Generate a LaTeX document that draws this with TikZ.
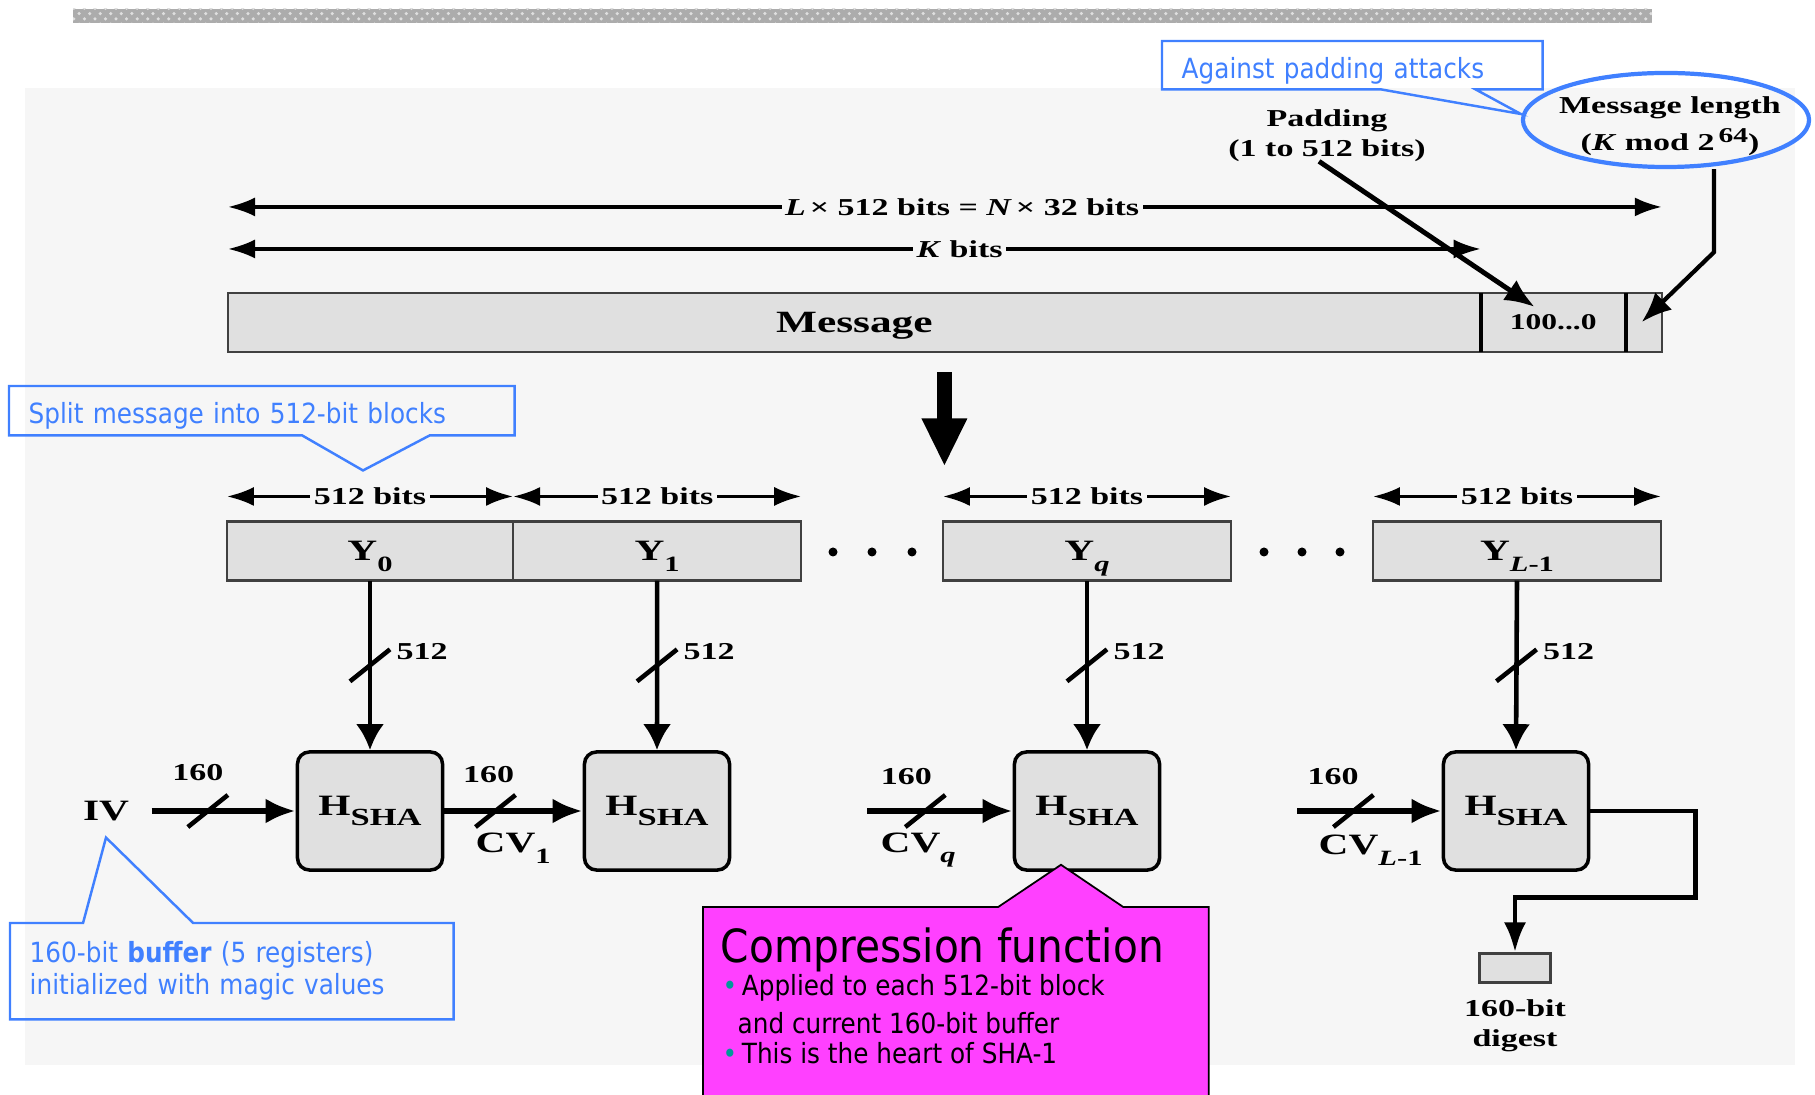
\documentclass[tikz,border=0pt]{standalone}
\usepackage{fontspec}
\setmainfont{Liberation Serif}[FakeStretch=1.4]
\newfontfamily\notefont{DejaVu Sans}[FakeStretch=0.89]
\usetikzlibrary{arrows.meta, positioning, shapes, calc, decorations.markings, patterns}

\definecolor{panel}{RGB}{246,246,246}
\definecolor{boxgray}{RGB}{224,224,224}
\definecolor{noteblue}{RGB}{64,128,255}
\definecolor{notepink}{RGB}{255,64,255}
\definecolor{dotteal}{RGB}{0,153,153}

\newcommand{\tinylbl}{\fontsize{6.9}{8.5}\selectfont\bfseries}
\newcommand{\blocklbl}{\fontsize{8.4}{10}\selectfont\bfseries}
\newcommand{\dsub}[2][6.2]{\raisebox{-0.8ex}{\fontsize{#1}{#1}\selectfont #2}}

\begin{document}
\begin{tikzpicture}[x=0.01cm, y=-0.01cm,
  block/.style = {draw=black!75, line width=0.6pt, fill=boxgray, inner sep=0pt, outer sep=0pt, minimum height=0.59cm, text depth=0pt, font=\blocklbl},
  hash/.style = {draw, line width=1pt, fill=boxgray, rounded corners=0.12cm, minimum width=1.45cm, minimum height=1.18cm, inner sep=0pt, font=\blocklbl},
  bus/.style = {line width=1.3pt, -{Latex[length=0.26cm, width=0.28cm]}},
  chain/.style = {line width=1.7pt, -{Latex[length=0.3cm, width=0.25cm]}},
  span/.style = {line width=0.9pt, {Latex[length=0.27cm, width=0.19cm]}-{Latex[length=0.27cm, width=0.19cm]}},
  cutv/.style = {postaction=decorate, decoration={markings, mark=at position 0.5 with {\draw[arrows=-, line width=1.3pt] (0.16cm,-0.2cm) -- (-0.16cm,0.2cm);}}},
  cuth/.style = {postaction=decorate, decoration={markings, mark=at position #1 with {\draw[arrows=-, line width=1.3pt] (-0.2cm,-0.16cm) -- (0.2cm,0.16cm);}}},
  dimtext/.style = {fill=panel, inner sep=1pt, font=\tinylbl},
  notebox/.style = {anchor=north west, inner xsep=0.19cm, inner ysep=0pt, align=left, text=noteblue, font=\notefont\fontsize{7.9}{9.1}\selectfont},
  callout/.style = {draw=noteblue, line width=0.7pt},
  pinktext/.style = {anchor=west, inner sep=0pt, font=\notefont\fontsize{7.9}{9}\selectfont}
]
  \useasboundingbox (0,0) rectangle (1815,1095);

  % Background
  \fill[panel] (25,88) rectangle (1795,1065);
  \fill[gray!65] (73,9) rectangle (1652,23);
  \fill[pattern=crosshatch dots, pattern color=gray!25] (73,9) rectangle (1652,23);

  % Message
  \node[block, minimum width=12.52cm, anchor=north west, font=\fontsize{8.8}{10}\selectfont\bfseries] (msg) at (228,293) {Message};
  \node[block, minimum width=1.45cm, anchor=west, font=\fontsize{6.4}{8}\selectfont\bfseries] (pad) at (msg.east) {100...0};
  \node[block, minimum width=0.36cm, anchor=west] (len) at (pad.east) {};
  \draw[line width=1.1pt] (pad.north west) -- (pad.south west) (len.north west) -- (len.south west);

  \draw[span] ([yshift=0.86cm]msg.north west) -- node[dimtext, pos=0.512] (ltot) {\textit{L}\,× 512 bits = \textit{N}\,× 32 bits} ([yshift=0.86cm]len.north east);
  \draw[span] ([yshift=0.44cm]msg.north west) -- node[dimtext, pos=0.584] (lk) {\textit{K} bits} ([yshift=0.44cm]pad.north west);

  % Padding and length
  \node[align=center, font=\tinylbl] (padtxt) at (1327,136) {Padding\\(1 to 512 bits)};
  \draw[line width=1.4pt, -{Latex[length=0.3cm, width=0.24cm]}] ([xshift=-0.08cm, yshift=0.13cm]padtxt.south) -- ([xshift=0.54cm, yshift=-0.14cm]pad.north west);

  \node[ellipse, draw=noteblue, line width=1.2pt, minimum width=2.86cm, minimum height=0.94cm, inner sep=0pt] (lenring) at (1666,120) {};
  \node[align=center, font=\fontsize{6.9}{10.5}\selectfont\bfseries] (lentxt) at (1670,126) {Message length\\(\textit{K} mod 2\,\raisebox{0.7ex}{\fontsize{6}{6}\selectfont 64})};
  \draw[line width=1.2pt, -{Latex[length=0.3cm, width=0.24cm]}] ([xshift=0.48cm]lenring.south) -- ++(0,83) -- ([xshift=0.16cm, yshift=-0.29cm]len.north west);

  \node[notebox, minimum width=3.79cm, minimum height=0.47cm, text width=3.41cm, text height=7.5pt, text depth=0pt] (padnote) at (1162,41) {Against padding attacks};
  \draw[callout] (padnote.north west) -- (padnote.north east) -- (padnote.south east) -- ([xshift=-0.67cm]padnote.south east) -- ([yshift=0.06cm]lenring.west) -- ([xshift=2.19cm]padnote.south west) -- (padnote.south west) -- cycle;

  % Split into blocks
  \node[block, minimum width=2.86cm] (y0) at (370,551) {Y\dsub{0}};
  \node[block, minimum width=2.88cm, right=0pt of y0] (y1) {Y\dsub{1}};
  \node[block, minimum width=2.88cm] (yq) at (1087,551) {Y\dsub{\textit{q}}};
  \node[block, minimum width=2.88cm] (yl) at (1517,551) {Y\dsub{\textit{L}-1}};

  \draw[line width=4.3pt, -{Triangle[length=0.48cm, width=0.42cm]}] ([xshift=0.015cm, yshift=1.49cm]yq.north west) -- ([xshift=0.015cm, yshift=0.55cm]yq.north west);

  \foreach \b in {y0,y1,yq,yl}
    \draw[span] ([yshift=0.25cm]\b.north west) -- node[dimtext] {512 bits} ([yshift=0.25cm]\b.north east);
  \foreach \x in {833,872,912,1264,1302,1340}
    \fill (\x,552) circle[radius=0.045cm];

  \node[notebox, minimum width=5.04cm, minimum height=0.48cm, text width=4.66cm, text height=7.5pt, text depth=0pt] (splitnote) at (9,386) {Split message into 512-bit blocks};
  \draw[callout] (splitnote.north west) -- (splitnote.north east) -- (splitnote.south east) -- ([xshift=-0.85cm]splitnote.south east) -- ([xshift=-0.07cm, yshift=0.51cm]y0.north) -- ([xshift=2.93cm]splitnote.south west) -- (splitnote.south west) -- cycle;

  % Compression chain
  \node[hash] (h0) at (370,811) {H\dsub[7]{SHA}};
  \node[hash] (h1) at (657,811) {H\dsub[7]{SHA}};
  \node[hash] (hq) at (1087,811) {H\dsub[7]{SHA}};
  \node[hash] (hl) at (1516,811) {H\dsub[7]{SHA}};

  \draw[bus, cutv] (y0.south) -- node[pos=0.5, xshift=0.52cm, yshift=0.14cm, font=\tinylbl] {512} (h0.north);
  \draw[bus, cutv] (y1.south) -- node[pos=0.5, xshift=0.52cm, yshift=0.14cm, font=\tinylbl] {512} (h1.north);
  \draw[bus, cutv] (yq.south) -- node[pos=0.5, xshift=0.52cm, yshift=0.14cm, font=\tinylbl] {512} (hq.north);
  \draw[bus, cutv] (yl.south) -- node[pos=0.5, xshift=0.52cm, yshift=0.14cm, font=\tinylbl] {512} (hl.north);

  \node[font=\blocklbl, inner sep=0pt] (iv) at (106,811) {IV};
  \draw[chain, cuth=0.39] ([xshift=0.22cm]iv.east) -- node[pos=0.32, yshift=0.38cm, font=\tinylbl] {160} (h0.west);
  \draw[chain, cuth=0.37] (h0.east) -- node[pos=0.32, yshift=0.36cm, font=\tinylbl] {160} (h1.west);
  \node[font=\blocklbl, anchor=west, inner sep=0pt] (cv1) at (475,848) {CV\dsub{1}};

  \coordinate (inq) at (867,811);
  \draw[chain, cuth=0.4] (inq) -- node[pos=0.27, yshift=0.34cm, font=\tinylbl] {160} (hq.west);
  \node[font=\blocklbl, anchor=west, inner sep=0pt] (cvq) at (880,850) {CV\dsub{\textit{q}}};

  \coordinate (inl) at (1297,811);
  \draw[chain, cuth=0.39] (inl) -- node[pos=0.25, yshift=0.34cm, font=\tinylbl] {160} (hl.west);
  \node[font=\blocklbl, anchor=west, inner sep=0pt] (cvl) at (1318,850) {CV\dsub{\textit{L}-1}};

  % Output
  \node[draw=black!75, line width=0.6pt, fill=boxgray, minimum width=0.71cm, minimum height=0.29cm, inner sep=0pt] (digest) at (1515,968) {};
  \node[below=0.04cm of digest, align=center, font=\fontsize{6.9}{8.3}\selectfont\bfseries] (digtxt) {160-bit\\digest};
  \draw[line width=1.4pt, -{Latex[length=0.3cm, width=0.22cm]}] (hl.east) -- ++(105,0) |- ([yshift=0.55cm]digest.north) -- (digest.north);

  % Notes
  \node[notebox, minimum width=4.42cm, minimum height=0.95cm, text width=4.04cm] (bufnote) at (10,923) {160-bit \textbf{buffer} (5 registers)\\initialized with magic values};
  \draw[callout] (bufnote.south west) -- (bufnote.north west) -- ([xshift=0.73cm]bufnote.north west) -- ([yshift=-0.16cm]iv.south) -- ([xshift=1.83cm]bufnote.north west) -- (bufnote.north east) -- (bufnote.south east) -- cycle;

  \node[minimum width=5.04cm, minimum height=2.0cm, anchor=north west, inner sep=0pt] (cfbox) at (703,907) {};
  \draw[fill=notepink, line width=0.5pt] (cfbox.north west) -- ([xshift=2.95cm]cfbox.north west) -- ([xshift=-0.26cm, yshift=0.07cm]hq.south) -- ([xshift=4.2cm]cfbox.north west) -- (cfbox.north east) -- (cfbox.south east) -- (cfbox.south west) -- cycle;
  \node[anchor=west, inner sep=0pt, font=\notefont\fontsize{13}{15}\selectfont] (cftitle) at (720,950) {Compression function};
  \node[pinktext] (cfa) at (722,988) {\textcolor{dotteal}{•}\,Applied to each 512-bit block};
  \node[pinktext] (cfb) at (737,1023) {and current 160-bit buffer};
  \node[pinktext] (cfc) at (722,1053) {\textcolor{dotteal}{•}\,This is the heart of SHA-1};

\end{tikzpicture}
\end{document}
